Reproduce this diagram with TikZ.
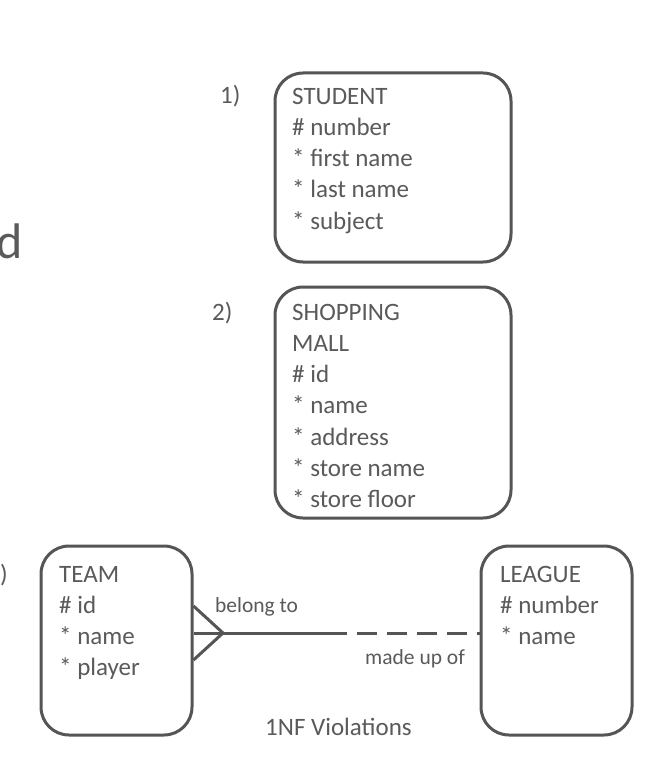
\documentclass[tikz,border=0pt]{standalone}
\usepackage{fontspec}
\setmainfont{Carlito}
\definecolor{txt}{HTML}{5A5A5A}
\definecolor{ln}{HTML}{555555}
\begin{document}
\begin{tikzpicture}[x=1pt,y=-1pt,
  box/.style={draw=ln, line width=3pt, rounded corners=28pt, inner sep=0pt},
  body/.style={anchor=base west, inner sep=0pt, align=left, text=txt,
    font=\fontsize{25}{31.3}\selectfont},
  lbl/.style={anchor=base west, inner sep=0pt, text=txt, font=\fontsize{21.5}{25}\selectfont},
  rel/.style={draw=ln, line width=3pt}]
\useasboundingbox (0,0) rectangle (660,770);
\fill[white] (0,0) rectangle (660,770);

% partial text at left edge
\node[anchor=base east, inner sep=0pt, text=txt, font=\fontsize{50}{60}\selectfont] (dd) at (23,258) {d};
\node[anchor=base east, inner sep=0pt, text=txt, font=\fontsize{25}{30}\selectfont] (pr) at (8,582) {)};

% 1) STUDENT  (node anchored at the baseline of its last line)
\node[anchor=base west, inner sep=0pt, text=txt, font=\fontsize{25}{30}\selectfont] (n1) at (220,104) {1)};
\node[box, minimum width=236pt, minimum height=189pt] (student) at (393,167.5) {};
\node[body] (studentT) at (292,229.2) {STUDENT\\\# number\\* first name\\* last name\\* subject};

% 2) SHOPPING MALL
\node[anchor=base west, inner sep=0pt, text=txt, font=\fontsize{25}{30}\selectfont] (n2) at (212,320) {2)};
\node[box, minimum width=236pt, minimum height=231pt] (mall) at (393,402.5) {};
\node[body] (mallT) at (292,507.8) {SHOPPING\\MALL\\\# id\\* name\\* address\\* store name\\* store floor};

% TEAM / LEAGUE
\node[box, minimum width=151pt, minimum height=189pt] (team) at (116.5,640.5) {};
\node[body] (teamT) at (59,675.9) {TEAM\\\# id\\* name\\* player};
\node[box, minimum width=151pt, minimum height=189pt] (league) at (556.5,640.5) {};
\node[body] (leagueT) at (500,644.6) {LEAGUE\\\# number\\* name};

% relationship
\coordinate (apex) at (223,633);
\coordinate (mid) at (340,633);
\draw[rel] (team.east |- apex) -- (mid);
\draw[rel] (team.east |- 0,606) -- (apex) -- (team.east |- 0,660);
\draw[rel, dash pattern=on 20pt off 10pt, dash phase=-17pt] (mid) -- (league.west |- apex);

\node[lbl] (belong) at (215,612) {belong to};
\node[lbl] (madeup) at (365,664) {made up of};

\node[anchor=base west, inner sep=0pt, text=txt, font=\fontsize{25}{30}\selectfont] (cap) at (265,735) {1NF Violations};
\end{tikzpicture}
\end{document}
